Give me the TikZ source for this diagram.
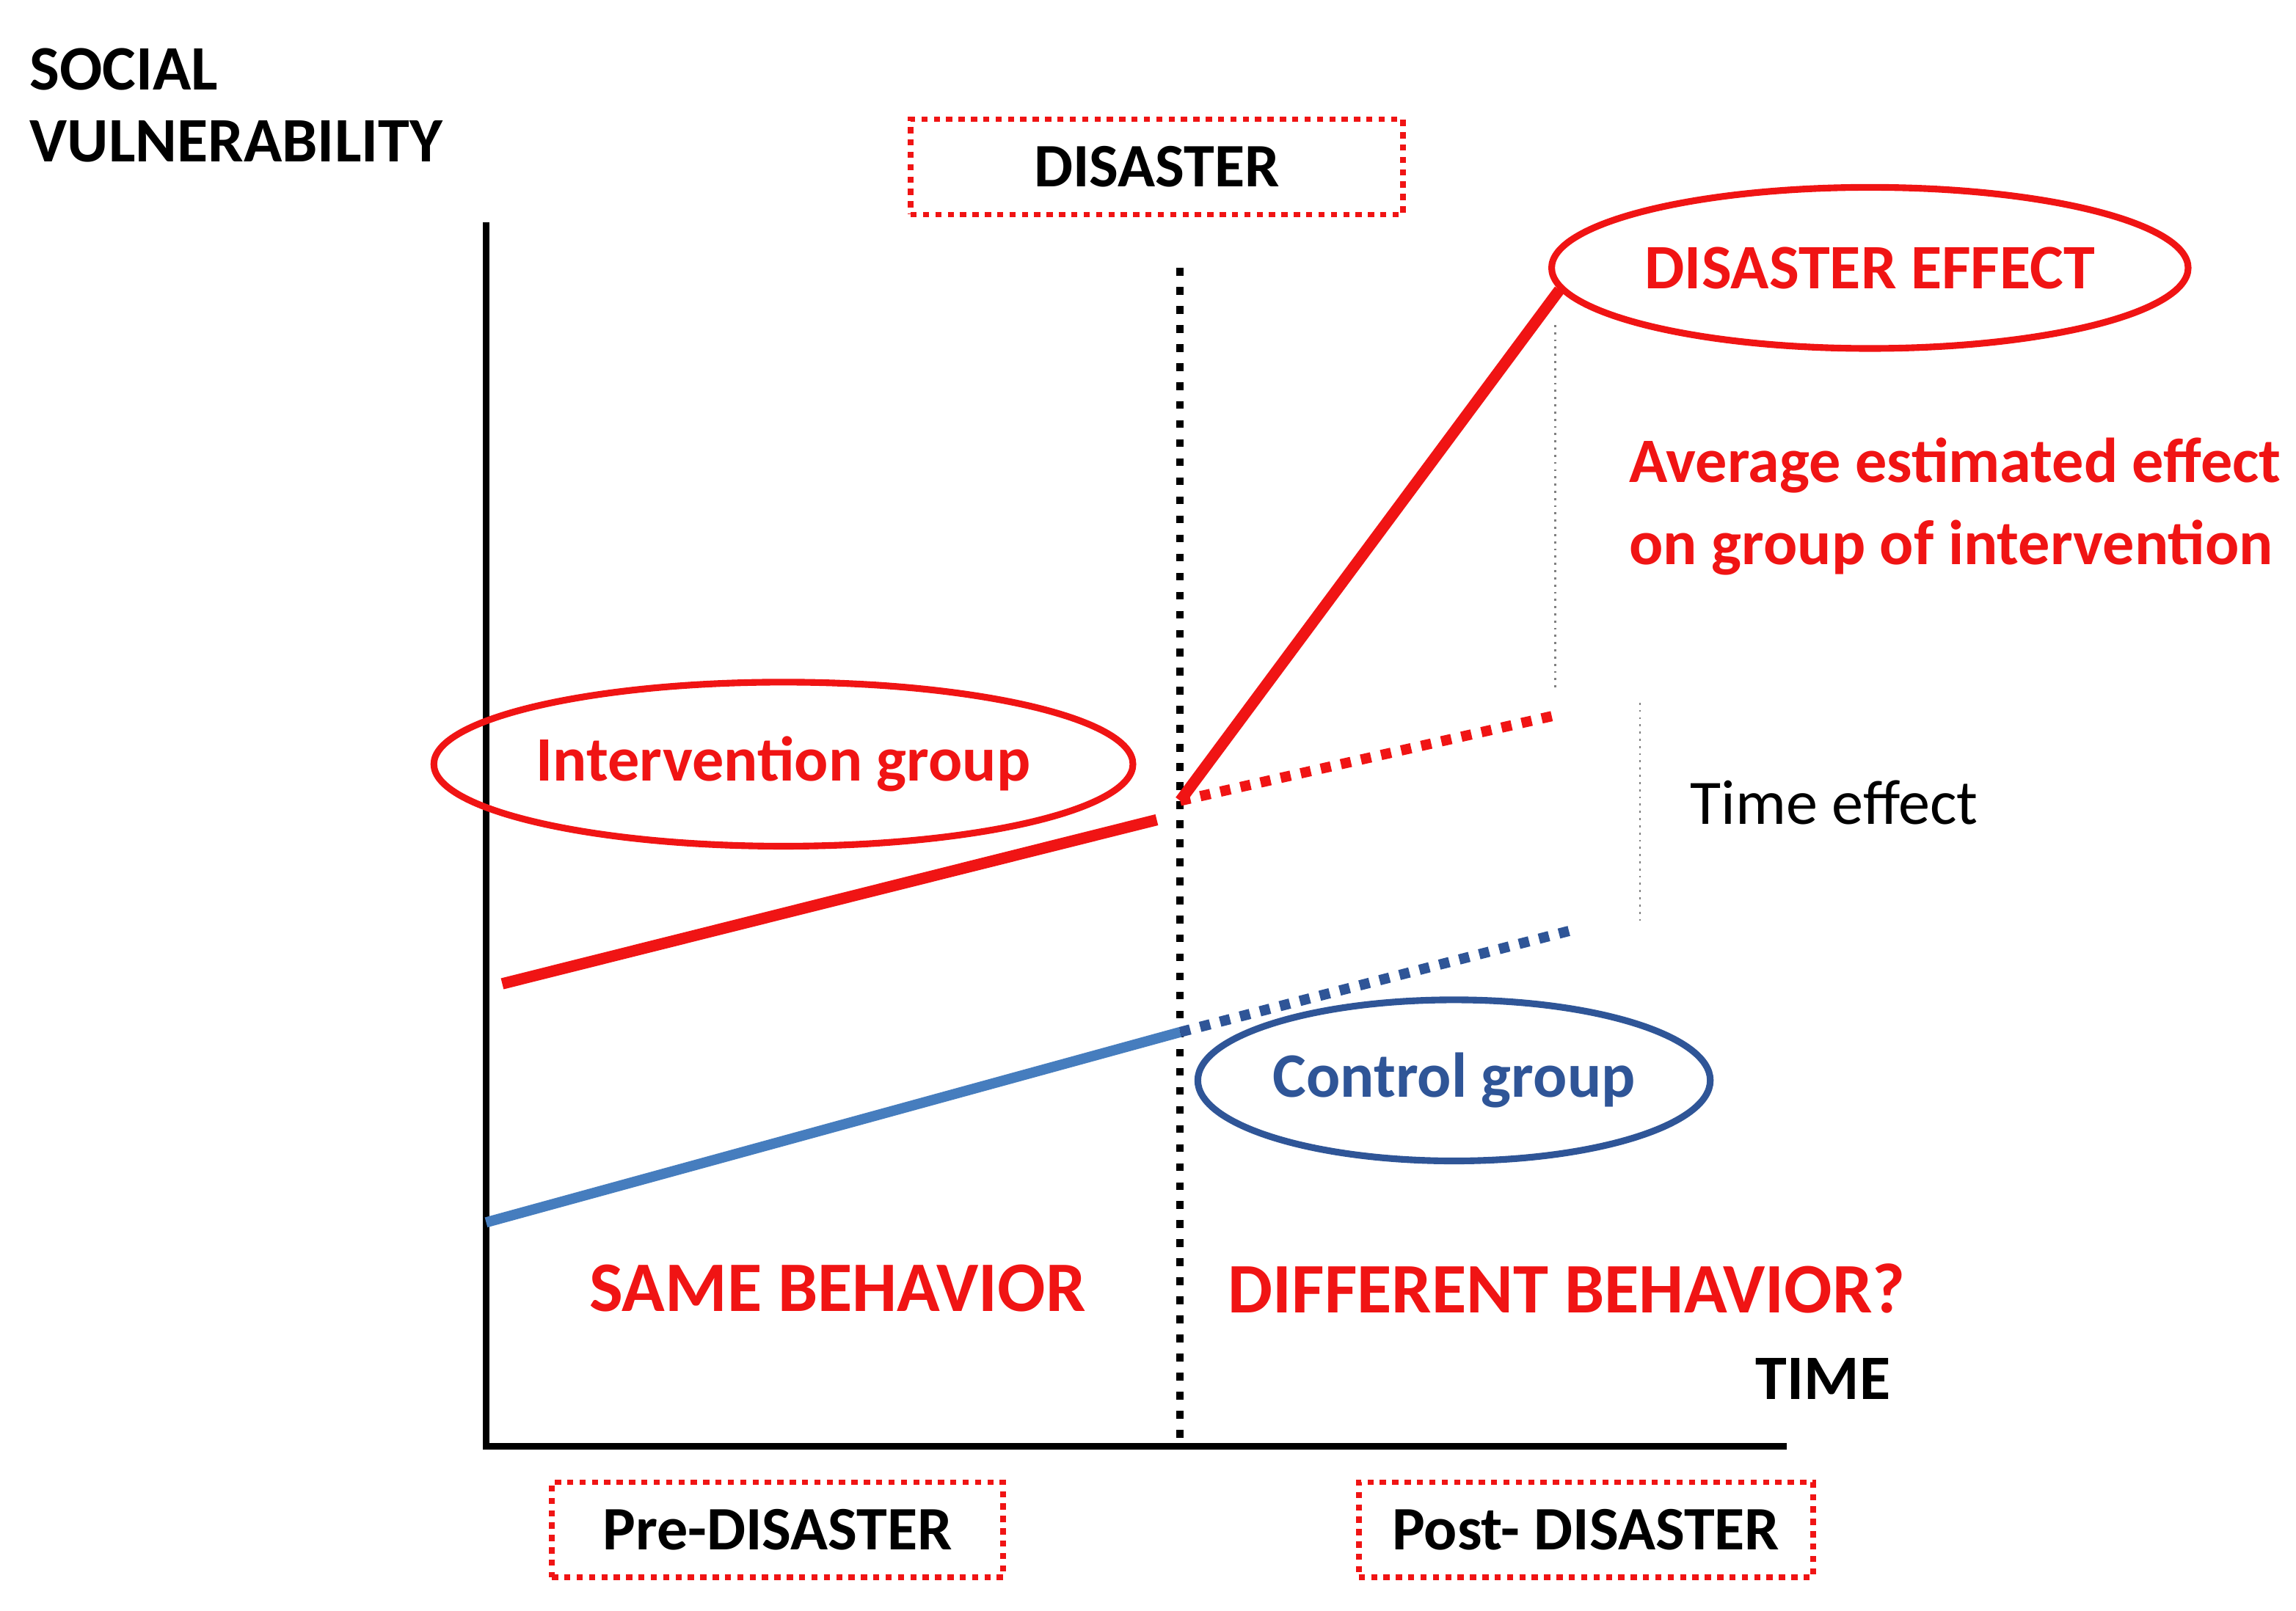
\documentclass[tikz,border=0pt]{standalone}
\usepackage{fontspec}
\setmainfont{Carlito}
\usetikzlibrary{shapes.geometric}
\definecolor{rd}{RGB}{240,20,20}
\definecolor{bl}{RGB}{70,125,190}
\definecolor{dbl}{RGB}{47,85,151}
\begin{document}
\begin{tikzpicture}[x=0.01cm,y=-0.01cm,
 box/.style={draw=rd,line width=1.1pt,dash pattern=on 1.2pt off 1.2pt,minimum height=0.65cm,font=\fontsize{12}{14}\selectfont\bfseries},
 ell/.style={ellipse,line width=1.3pt,inner sep=0pt},
 lbl/.style={font=\fontsize{12.3}{15}\selectfont\bfseries},
 big/.style={font=\fontsize{13.8}{17}\selectfont\bfseries,text=rd}]
\useasboundingbox (0,0) rectangle (1568,1100);
\node[lbl,anchor=west,align=left] (yl) at (8,72) {SOCIAL\\[-1pt]VULNERABILITY};
\coordinate (o) at (332,988); \coordinate (yt) at (332,152); \coordinate (xe) at (1220,988);
\draw[line width=1.3pt] (yt) -- (o) -- (xe);
\coordinate (d1) at (806,183); \coordinate (d2) at (806,982);
\draw[line width=1.4pt,dash pattern=on 1.5pt off 2.2pt] (d1) -- (d2);
\node[box,minimum width=3.36cm] (dis) at (790,114) {DISASTER};
\node[box,minimum width=3.08cm] (pre) at (531,1045) {Pre-DISASTER};
\node[box,minimum width=3.1cm] (post) at (1083,1045) {Post- DISASTER};
\node[ell,draw=rd,minimum width=3.66cm,minimum height=1.1cm,lbl,text=rd] (de) at (1277,183) {DISASTER EFFECT};
\node[ell,draw=rd,minimum width=3.84cm,minimum height=1.12cm,lbl,text=rd] (ig) at (535,522) {Intervention group};
\node[ell,draw=dbl,minimum width=3.1cm,minimum height=1.1cm,lbl,text=dbl] (cg) at (993,738) {Control group};
\coordinate (p0) at (806,547); \coordinate (p1) at (1065,198); \coordinate (p2) at (1065,488);
\coordinate (r0) at (343,672); \coordinate (r1) at (790,560);
\coordinate (b0) at (332,835); \coordinate (b1) at (806,705); \coordinate (b2) at (1075,635);
\draw[rd,line width=2.2pt] (r0) -- (r1);
\draw[rd,line width=2.2pt] (p0) -- (p1);
\draw[rd,line width=2pt,dash pattern=on 2pt off 2pt] (p0) -- (p2);
\draw[bl,line width=2pt] (b0) -- (b1);
\draw[dbl,line width=2pt,dash pattern=on 2pt off 2pt] (b1) -- (b2);
\coordinate (g1) at (1062,222); \coordinate (g2) at (1062,470);
\coordinate (g3) at (1120,480); \coordinate (g4) at (1120,632);
\draw[gray,line width=0.4pt,densely dotted] (g1) -- (g2);
\draw[gray,line width=0.4pt,densely dotted] (g3) -- (g4);
\node[lbl,text=rd,anchor=west,align=left,inner sep=0pt] (avg) at (1112,346) {Average estimated effect\\[1pt]on group of intervention};
\node[font=\fontsize{12.3}{15}\selectfont,anchor=west] (te) at (1142,548) {Time effect};
\node[big] (same) at (572,880) {SAME BEHAVIOR};
\node[big] (diff) at (1070,880) {DIFFERENT BEHAVIOR?};
\node[lbl] (time) at (1245,942) {TIME};
\end{tikzpicture}
\end{document}
